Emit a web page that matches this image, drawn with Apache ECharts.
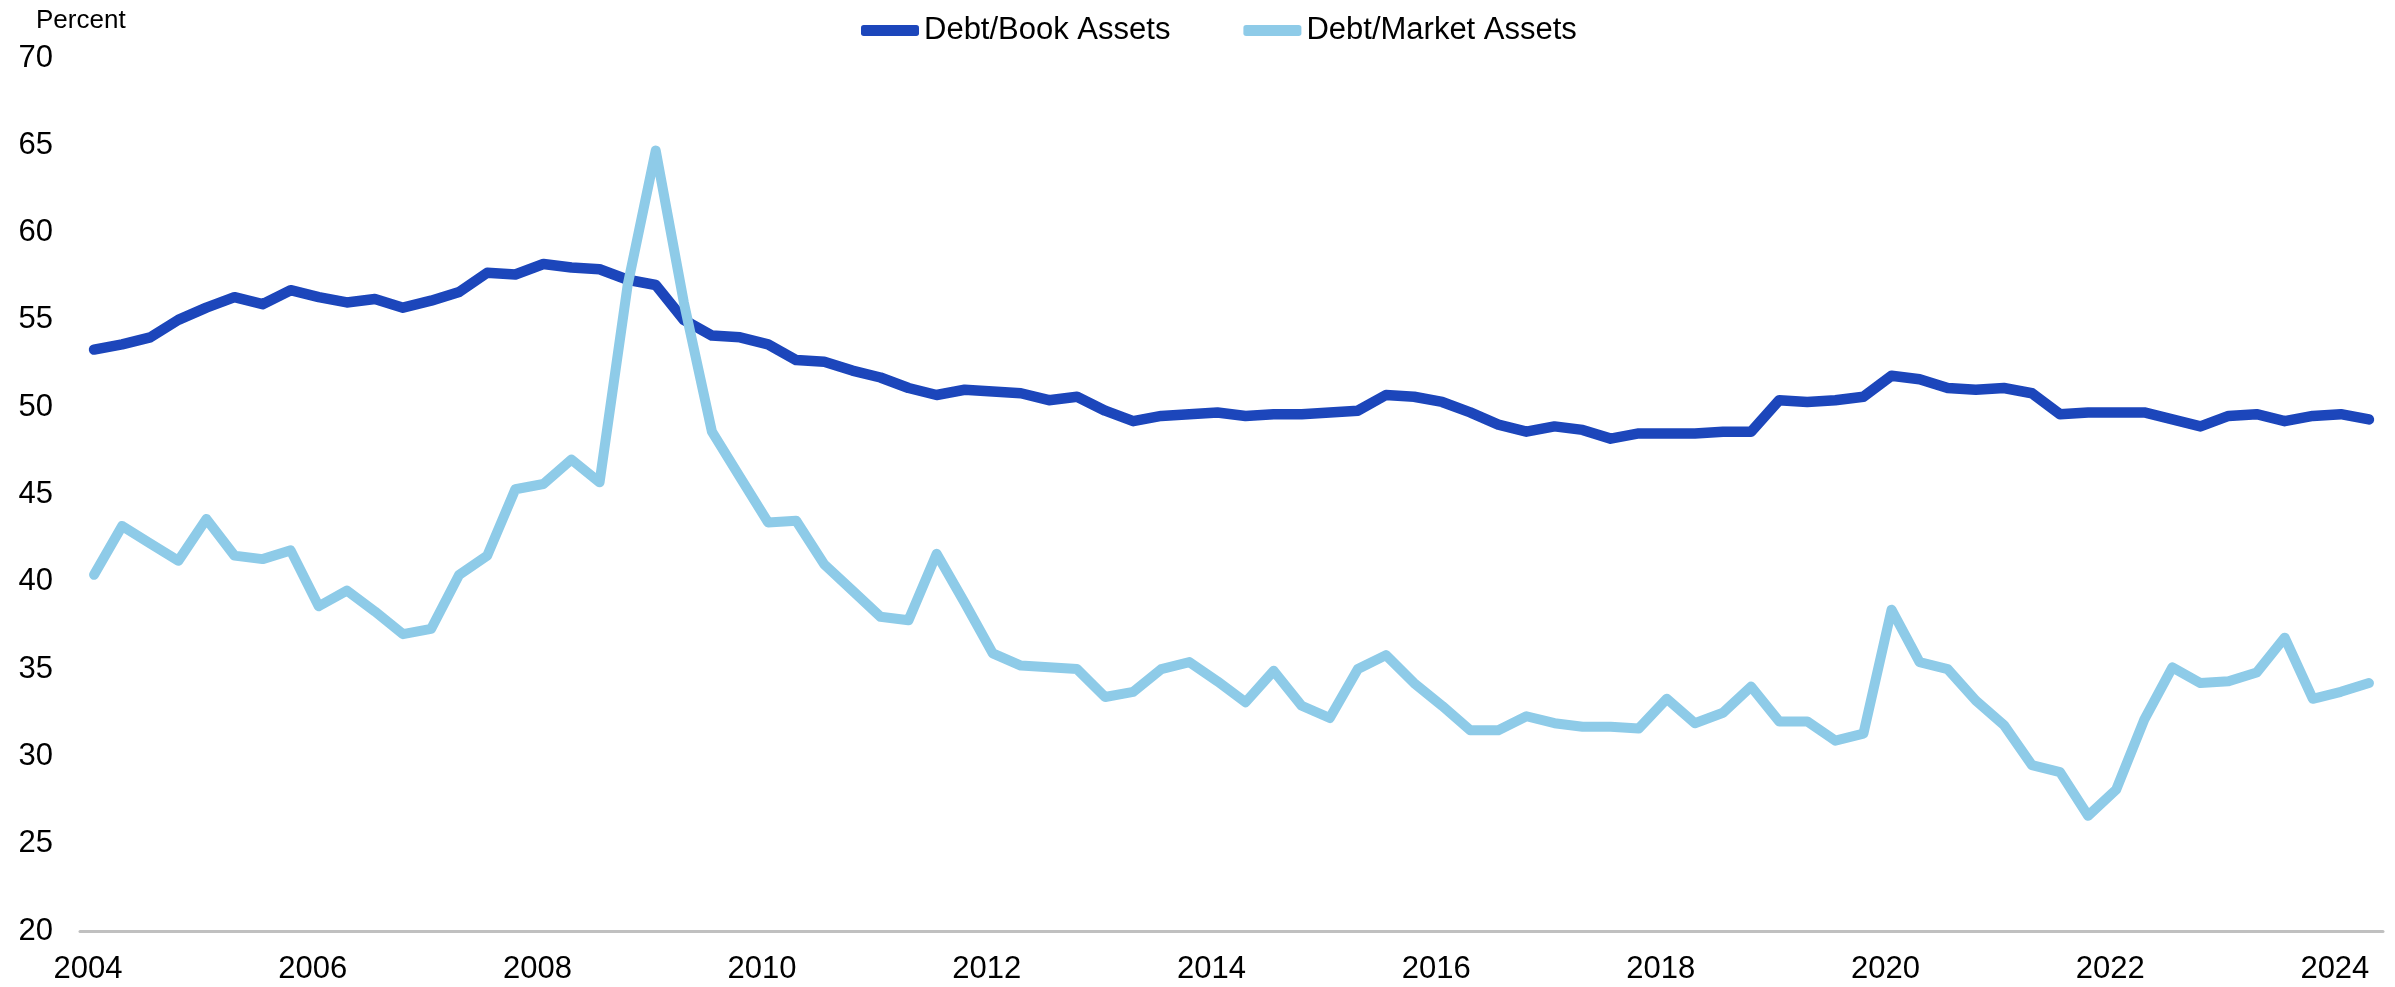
<!DOCTYPE html>
<html>
<head>
<meta charset="utf-8">
<script src="https://cdn.jsdelivr.net/npm/echarts@6/dist/echarts.min.js"></script>
<style>
    html, body { margin: 0; padding: 0; background: #fff; }
    #chart { width: 2395px; height: 987px; }
</style>
</head>
<body>
<div id="chart"></div>
<script>
    // quarters 2004Q1 .. 2024Q2
    var startYear = 2004;
    var quarterCount = 82;
    var categories = [];
    for (var i = 0; i < quarterCount; i++) {
        categories.push((startYear + Math.floor(i / 4)) + 'Q' + (i % 4 + 1));
    }

    var tickYears = ['2004', '2006', '2008', '2010', '2012', '2014', '2016', '2018', '2020', '2022', '2024'];
    var yTicks = [20, 25, 30, 35, 40, 45, 50, 55, 60, 65, 70];

    var seriesNames = ['Debt/Book Assets', 'Debt/Market Assets'];

    var debtBook = [
        53.3, 53.6, 54.0, 55.0, 55.7, 56.3, 55.9, 56.7,
        56.3, 56.0, 56.2, 55.7, 56.1, 56.6, 57.7, 57.6,
        58.2, 58.0, 57.9, 57.3, 57.0, 55.0, 54.1, 54.0,
        53.6, 52.7, 52.6, 52.1, 51.7, 51.1, 50.7, 51.0,
        50.9, 50.8, 50.4, 50.6, 49.8, 49.2, 49.5, 49.6,
        49.7, 49.5, 49.6, 49.6, 49.7, 49.8, 50.7, 50.6,
        50.3, 49.7, 49.0, 48.6, 48.9, 48.7, 48.2, 48.5,
        48.5, 48.5, 48.6, 48.6, 50.4, 50.3, 50.4, 50.6,
        51.8, 51.6, 51.1, 51.0, 51.1, 50.8, 49.6, 49.7,
        49.7, 49.7, 49.3, 48.9, 49.5, 49.6, 49.2, 49.5,
        49.6, 49.3
    ];

    var debtMarket = [
        40.4, 43.2, 42.2, 41.2, 43.6, 41.5, 41.3, 41.8,
        38.6, 39.5, 38.3, 37.0, 37.3, 40.4, 41.5, 45.3,
        45.6, 47.0, 45.7, 57.0, 64.7, 56.0, 48.6, 46.0,
        43.4, 43.5, 41.0, 39.5, 38.0, 37.8, 41.6, 38.8,
        35.9, 35.2, 35.1, 35.0, 33.4, 33.7, 35.0, 35.4,
        34.3, 33.1, 34.9, 32.9, 32.2, 35.0, 35.8, 34.2,
        32.9, 31.5, 31.5, 32.3, 31.9, 31.7, 31.7, 31.6,
        33.3, 31.9, 32.5, 34.0, 32.0, 32.0, 30.9, 31.3,
        38.4, 35.4, 35.0, 33.2, 31.8, 29.5, 29.1, 26.6,
        28.1, 32.1, 35.1, 34.2, 34.3, 34.8, 36.8, 33.3,
        33.7, 34.2
    ];

    var textFont = '"Liberation Sans", Arial, sans-serif';

    var chart = echarts.init(document.getElementById('chart'));
    chart.setOption({
        animation: false,
        color: ['#1c46bb', '#8ecbe8'],
        title: {
            text: 'Percent',
            left: 31,
            top: 3,
            textStyle: {
                fontFamily: textFont,
                fontSize: 26,
                fontWeight: 'normal',
                color: '#000'
            }
        },
        legend: {
            data: seriesNames,
            left: 856,
            top: 10,
            icon: 'roundRect',
            itemWidth: 58,
            itemHeight: 11,
            itemGap: 73,
            textStyle: {
                fontFamily: textFont,
                fontSize: 31,
                color: '#000'
            }
        },
        grid: {
            left: 80,
            right: 12,
            top: 58,
            bottom: 56,
            containLabel: false
        },
        xAxis: {
            type: 'category',
            data: categories,
            boundaryGap: true,
            axisLine: { lineStyle: { color: '#c0c0c0', width: 3 } },
            axisTick: { show: false },
            splitLine: { show: false },
            axisLabel: {
                interval: function (index) { return index % 8 === 0; },
                formatter: function (value) {
                    var y = value.slice(0, 4);
                    return tickYears.indexOf(y) >= 0 ? y : '';
                },
                fontFamily: textFont,
                fontSize: 31,
                color: '#000',
                margin: 23,
                padding: [0, 12, 0, 0]
            }
        },
        yAxis: {
            type: 'value',
            min: yTicks[0],
            max: yTicks[yTicks.length - 1],
            interval: 5,
            axisLine: { show: false },
            axisTick: { show: false },
            splitLine: { show: false },
            axisLabel: {
                fontFamily: textFont,
                fontSize: 31,
                color: '#000',
                margin: 27
            }
        },
        series: [
            {
                name: seriesNames[0],
                type: 'line',
                data: debtBook,
                showSymbol: false,
                symbol: 'none',
                lineStyle: { width: 10.5, cap: 'round', join: 'round' }
            },
            {
                name: seriesNames[1],
                type: 'line',
                data: debtMarket,
                showSymbol: false,
                symbol: 'none',
                lineStyle: { width: 10, cap: 'round', join: 'round' }
            }
        ]
    });
</script>
</body>
</html>
